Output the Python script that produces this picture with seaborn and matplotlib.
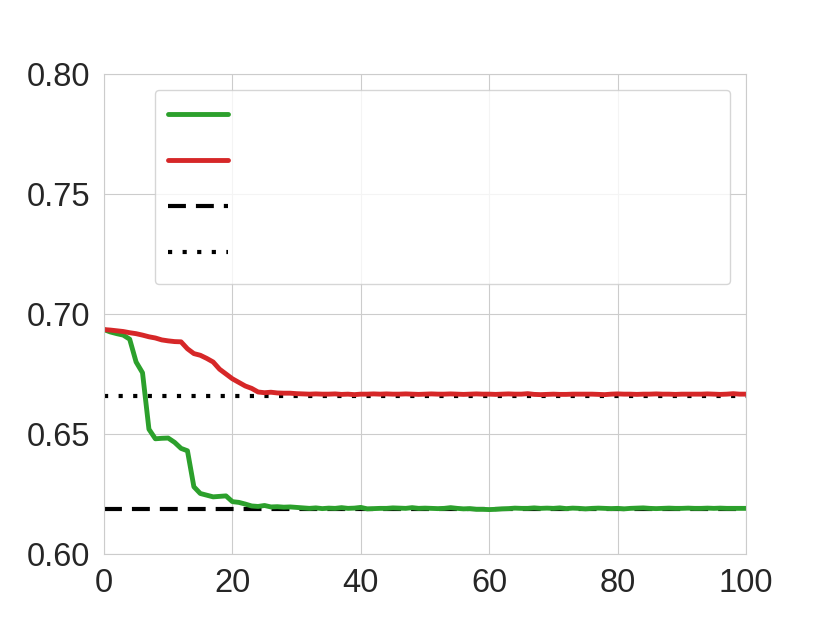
import numpy as np
import pandas as pd
import seaborn as sns
import matplotlib.pyplot as plt

# --- data ---
steps = list(range(101))

green_vals = [
    0.6935, 0.6925, 0.6918, 0.6912, 0.6895, 0.6800, 0.6755, 0.6520, 0.6480, 0.6482,
    0.6483, 0.6465, 0.6440, 0.6430, 0.6280, 0.6252, 0.6245, 0.6238, 0.6240, 0.6242,
    0.6218, 0.6215, 0.6208, 0.6200, 0.6198, 0.6202, 0.6196, 0.6197, 0.6195, 0.6196,
    0.6194, 0.6192, 0.6190, 0.6192, 0.6189, 0.6191, 0.6190, 0.6193, 0.6190, 0.6191,
    0.6194, 0.6188, 0.6189, 0.6190, 0.6190, 0.6192, 0.6191, 0.6190, 0.6193, 0.6190,
    0.6191, 0.6190, 0.6189, 0.6190, 0.6193, 0.6190, 0.6188, 0.6189, 0.6186, 0.6186,
    0.6185, 0.6186, 0.6188, 0.6189, 0.6191, 0.6190, 0.6190, 0.6192, 0.6190, 0.6191,
    0.6190, 0.6192, 0.6189, 0.6191, 0.6190, 0.6188, 0.6190, 0.6191, 0.6190, 0.6189,
    0.6190, 0.6188, 0.6190, 0.6191, 0.6192, 0.6190, 0.6189, 0.6190, 0.6191, 0.6190,
    0.6190, 0.6191, 0.6190, 0.6190, 0.6191, 0.6190, 0.6191, 0.6190, 0.6190, 0.6190,
    0.6190,
]

red_vals = [
    0.6935, 0.6933, 0.6930, 0.6927, 0.6922, 0.6918, 0.6912, 0.6905, 0.6900, 0.6892,
    0.6888, 0.6885, 0.6884, 0.6855, 0.6835, 0.6828, 0.6815, 0.6800, 0.6770, 0.6750,
    0.6730, 0.6715, 0.6700, 0.6690, 0.6675, 0.6672, 0.6674, 0.6671, 0.6670, 0.6670,
    0.6668, 0.6667, 0.6666, 0.6667, 0.6666, 0.6666, 0.6667, 0.6665, 0.6666, 0.6664,
    0.6666, 0.6666, 0.6667, 0.6666, 0.6667, 0.6666, 0.6666, 0.6667, 0.6666, 0.6665,
    0.6666, 0.6667, 0.6666, 0.6666, 0.6667, 0.6666, 0.6665, 0.6666, 0.6667, 0.6666,
    0.6666, 0.6665, 0.6666, 0.6667, 0.6666, 0.6666, 0.6668, 0.6665, 0.6664, 0.6665,
    0.6666, 0.6665, 0.6665, 0.6666, 0.6666, 0.6666, 0.6666, 0.6665, 0.6664, 0.6666,
    0.6667, 0.6666, 0.6666, 0.6665, 0.6666, 0.6666, 0.6667, 0.6666, 0.6666, 0.6665,
    0.6666, 0.6666, 0.6666, 0.6666, 0.6667, 0.6666, 0.6665, 0.6666, 0.6668, 0.6666,
    0.6666,
]

dashed_level = 0.6188
dotted_level = 0.6658

x_ticks = [0, 20, 40, 60, 80, 100]
y_ticks = [0.60, 0.65, 0.70, 0.75, 0.80]

sns.set_style("whitegrid")
plt.rcParams['font.family'] = ['Liberation Sans', 'DejaVu Sans']

df = pd.DataFrame({"step": steps, "green": green_vals, "red": red_vals})

fig = plt.figure(figsize=(8.3, 6.23), dpi=100)
ax = fig.add_axes([0.1253, 0.1108, 0.7735, 0.7704])

sns.lineplot(data=df, x="step", y="green", ax=ax, color="#2ca02c", lw=3.5, label=" ")
sns.lineplot(data=df, x="step", y="red", ax=ax, color="#d62728", lw=3.5, label=" ")
ax.plot([steps[0], steps[-1]], [dashed_level, dashed_level], color="black",
        lw=3, dashes=(4.3, 2.4), label=" ", zorder=1)
ax.plot([steps[0], steps[-1]], [dotted_level, dotted_level], color="black",
        lw=3, dashes=(1, 2.5), label=" ", zorder=1)

ax.set_xlim(0, 100)
ax.set_ylim(0.60, 0.80)
ax.set_xticks(x_ticks)
ax.set_yticks(y_ticks)
ax.set_yticklabels([f"{v:.2f}" for v in y_ticks])
ax.set_xlabel("")
ax.set_ylabel("")
ax.tick_params(labelsize=23.5, colors="#262626", length=0, pad=10)

ax.legend(loc="upper left", bbox_to_anchor=(0.079, 0.565, 0.896, 0.402),
          mode="expand", fontsize=16, labelspacing=0.71, handlelength=2.7,
          handleheight=1.71, borderpad=0.6, borderaxespad=0)

fig.savefig("out.png", dpi=100)
